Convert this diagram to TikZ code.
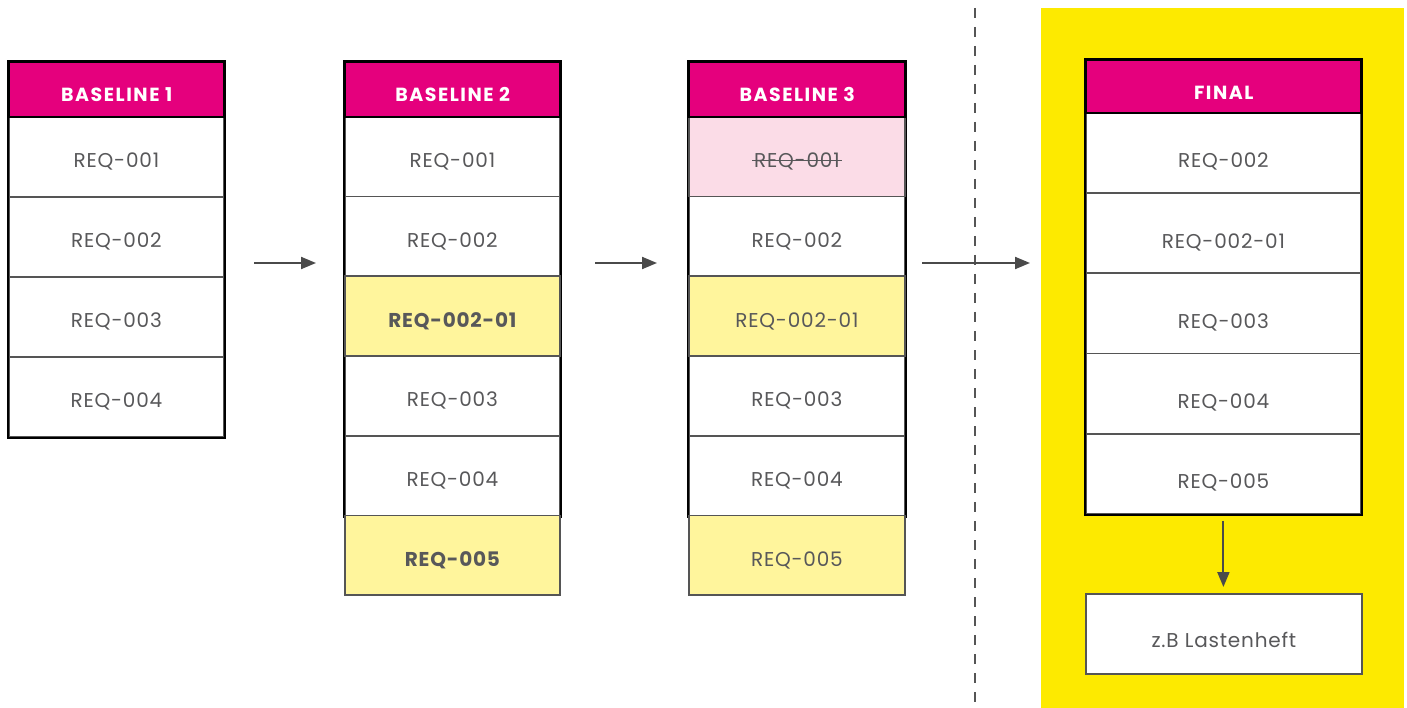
\documentclass[tikz,border=0pt]{standalone}
\usepackage{fontspec}
\setmainfont{Poppins}
\newfontfamily\cellfont{Poppins}[LetterSpace=4]
\newfontfamily\headfont{Poppins}[LetterSpace=8]
\usetikzlibrary{arrows.meta}

\definecolor{magentahead}{HTML}{E5007D}
\definecolor{brightyellow}{HTML}{FDEA00}
\definecolor{paleyellow}{HTML}{FFF59C}
\definecolor{palepink}{HTML}{FBDCE7}
\definecolor{lineg}{HTML}{555555}
\definecolor{txtg}{HTML}{58585A}
\definecolor{arrowg}{HTML}{4A4A4A}

% struck-through text for removed requirements
\newcommand\removedreq[1]{\setbox0\hbox{#1}\rlap{\kern-2pt\raisebox{0.34em}{\rule{\dimexpr\wd0+4pt\relax}{1pt}}}\box0}

\tikzset{
  cellbox/.style={draw=lineg, line width=1.8pt, fill=white, inner sep=0pt,
    minimum width=215pt, minimum height=80pt, anchor=north west,
    text=txtg, font=\fontsize{20}{22}\cellfont, text height=22pt, text depth=0pt},
  newcell/.style={cellbox, fill=paleyellow},
  gonecell/.style={cellbox, fill=palepink},
  boldtext/.style={font=\fontsize{20}{22}\cellfont\bfseries},
  finalcell/.style={cellbox, minimum width=275pt, minimum height=80.2pt, text height=30pt},
  headbox/.style={draw=black, line width=2.4pt, fill=magentahead, inner sep=0pt,
    minimum width=215pt, minimum height=55pt, anchor=north west,
    text=white, font=\fontsize{19}{22}\headfont\bfseries, text height=23pt, text depth=0pt},
  frame/.style={draw=black, line width=2.4pt},
  flow/.style={draw=arrowg, line width=2pt, -{Triangle[length=15pt,width=12pt]}},
  divider/.style={draw=lineg, line width=2.5pt, dash pattern=on 10pt off 9pt},
}

\begin{document}
\begin{tikzpicture}[x=1pt,y=-1pt]
\useasboundingbox (0,0) rectangle (1407,708);

% highlighted area for the final document
\fill[brightyellow] (1041,8) rectangle (1404,708);

% phase divider
\coordinate (dtop) at (975,8);
\coordinate (dbot) at (975,708);
\draw[divider] (dtop) -- (dbot);

% ---------------- Baseline 1 ----------------
\node[cellbox] (b1r1) at (8,116) {REQ-001};
\node[cellbox] (b1r2) at (8,196) {REQ-002};
\node[cellbox] (b1r3) at (8,276) {REQ-003};
\node[cellbox] (b1r4) at (8,356) {REQ-004};
\node[headbox] (b1h) at (8,61) {BASELINE 1};
\draw[frame] (b1h.north west) rectangle (b1r4.south east);

% ---------------- Baseline 2 ----------------
\node[cellbox, minimum height=79.7pt] (b2r1) at (344,116) {REQ-001};
\node[cellbox, minimum height=79.7pt] (b2r2) at (344,195.7) {REQ-002};
\node[cellbox, minimum height=79.7pt] (b2r4) at (344,355.1) {REQ-003};
\node[cellbox, minimum height=79.7pt] (b2r5) at (344,434.8) {REQ-004};
\node[headbox] (b2h) at (344,61) {BASELINE 2};
\draw[frame] (b2h.north west) rectangle (b2r5.south east);
\node[newcell, boldtext, minimum height=79.7pt] (b2r3) at (344,275.4) {REQ-002-01};
\node[newcell, boldtext, minimum height=79.7pt] (b2r6) at (344,514.5) {REQ-005};
\node[headbox] at (b2h.north west) {BASELINE 2};

% ---------------- Baseline 3 ----------------
\node[cellbox, minimum width=216pt, minimum height=79.7pt] (b3r2) at (688,195.7) {REQ-002};
\node[cellbox, minimum width=216pt, minimum height=79.7pt] (b3r4) at (688,355.1) {REQ-003};
\node[cellbox, minimum width=216pt, minimum height=79.7pt] (b3r5) at (688,434.8) {REQ-004};
\node[headbox, minimum width=216pt] (b3h) at (688,61) {BASELINE 3};
\draw[frame] (b3h.north west) rectangle (b3r5.south east);
\node[gonecell, minimum width=216pt, minimum height=79.7pt] (b3r1) at (688,116) {\removedreq{REQ-001}};
\node[newcell, minimum width=216pt, minimum height=79.7pt] (b3r3) at (688,275.4) {REQ-002-01};
\node[newcell, minimum width=216pt, minimum height=79.7pt] (b3r6) at (688,514.5) {REQ-005};
\node[headbox, minimum width=216pt] at (b3h.north west) {BASELINE 3};

% ---------------- Final ----------------
\node[finalcell] (f1) at (1085,112) {REQ-002};
\node[finalcell] (f2) at (1085,192.2) {REQ-002-01};
\node[finalcell] (f3) at (1085,272.4) {REQ-003};
\node[finalcell] (f4) at (1085,352.6) {REQ-004};
\node[finalcell] (f5) at (1085,432.8) {REQ-005};
\node[headbox, minimum width=275pt, minimum height=53pt, text height=26pt] (fh) at (1085,59) {FINAL};
\draw[frame] (fh.north west) rectangle (f5.south east);

\node[cellbox, minimum width=276pt, minimum height=80pt, text height=28pt] (doc) at (1085,593) {z.B Lastenheft};

% ---------------- Connectors ----------------
\coordinate (s1) at (223,263);
\coordinate (t1) at (344,263);
\coordinate (s2) at (559,263);
\coordinate (t2) at (688,263);
\coordinate (s3) at (904,263);
\coordinate (t3) at (1041,263);
\draw[flow, shorten <=31pt, shorten >=28pt] (s1) -- (t1);
\draw[flow, shorten <=36pt, shorten >=31pt] (s2) -- (t2);
\draw[flow, shorten <=18pt, shorten >=11pt] (s3) -- (t3);
\draw[flow, shorten <=6pt, shorten >=6pt] (f5.south) -- (f5.south |- doc.north);
\end{tikzpicture}
\end{document}
